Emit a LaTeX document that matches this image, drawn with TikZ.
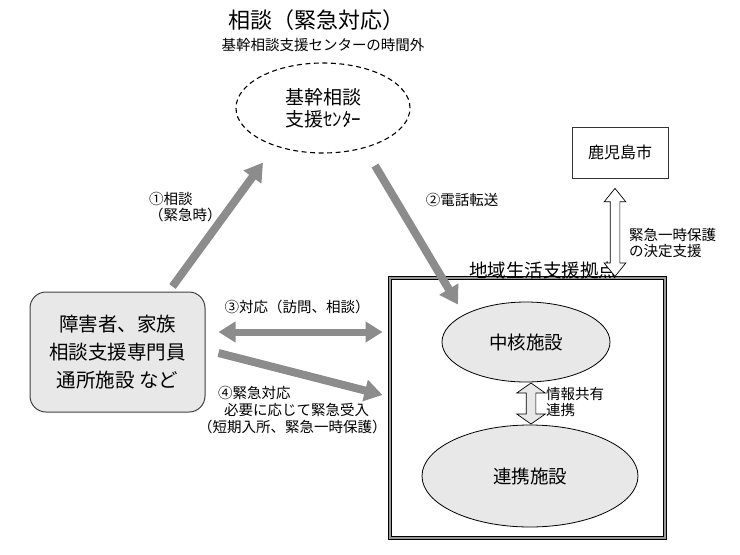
\documentclass[tikz,border=0pt]{standalone}
\usepackage{fontspec}
\setmainfont{Noto Sans CJK JP}
\usepackage{tikz}
\usetikzlibrary{arrows.meta,calc,positioning,shapes.geometric,shapes.arrows}
\definecolor{arrowgray}{HTML}{8C8C8C}
\definecolor{softgray}{HTML}{E8E8E8}
\newcommand{\fs}[1]{\fontsize{#1}{1.15\dimexpr#1pt\relax}\selectfont}

\begin{document}
\begin{tikzpicture}[x=1pt,y=-1pt,>=Latex]
\tikzset{fat/.style={draw=arrowgray,line width=8pt,
    -{Triangle[width=21pt,length=18pt]}},
  fatboth/.style={draw=arrowgray,line width=7pt,
    {Triangle[width=20pt,length=17pt]}-{Triangle[width=20pt,length=17pt]}},
  tag/.style={font=\fs{14.5},align=left,inner sep=0pt},
  hollow/.style={double arrow,draw,line width=0.7pt,rotate=90,inner sep=4.5pt,minimum width=0pt}}
\useasboundingbox (0,0) rectangle (740,555);
\node[font=\fs{22}] (head) at (316,20) {相談（緊急対応）};
\node[font=\fs{14.5}] (headsub) at (323,45) {基幹相談支援センターの時間外};
\node[ellipse,draw,dash pattern=on 5pt off 3.5pt,line width=1.1pt,minimum width=174pt,minimum height=90pt,
  inner sep=0pt,align=center,font=\fs{19}] (hub) at (323,108) {基幹相談\\支援ｾﾝﾀｰ};
\node[draw=black!75,rounded corners=16pt,fill=softgray,line width=1pt,minimum width=175pt,
  minimum height=120pt,align=center,font={\fontsize{19.5}{28}\selectfont}] (people) at (117.5,352)
  {障害者、家族\\相談支援専門員\\通所施設 など};
\node[draw=black,line width=0.9pt,double=black!40,double distance=1.6pt,minimum width=275pt,
  minimum height=260pt] (base) at (527.5,408) {};
\node[font=\fs{18.5},inner sep=0pt] (basename) at (543,270) {地域生活支援拠点};
\node[ellipse,draw,fill=softgray,line width=0.8pt,minimum width=168pt,minimum height=80pt,
  font=\fs{18.5}] (core) at (526,342) {中核施設};
\node[ellipse,draw,fill=softgray,line width=0.8pt,minimum width=216pt,minimum height=102pt,
  font=\fs{18.5}] (partner) at (530,476) {連携施設};
\node[draw=black!80,line width=0.8pt,minimum width=96pt,minimum height=51pt,font=\fs{16}] (city) at (620,152.5) {鹿児島市};
\node[hollow,fill=softgray,minimum height=41pt,double arrow head extend=9.5pt,
  double arrow tip angle=110] (share) at ($(core.south)!0.5!(partner.north)+(3,0)$) {};
\node[hollow,fill=white,minimum height=88pt,double arrow head extend=6pt,
  double arrow tip angle=78] (decide) at ($(city.south)+(-5,54)$) {};
\draw[fat] ([xshift=55pt,yshift=5pt]people.north) -- ([xshift=-60pt,yshift=-9pt]hub.south);
\draw[fat] ([xshift=52pt,yshift=-12pt]hub.south) -- ([xshift=-68pt,yshift=-3pt]core.north);
\draw[fatboth] ([xshift=13pt,yshift=20pt]people.east) -- ([xshift=-7pt,yshift=76pt]base.west);
\draw[fat] ([xshift=13pt,yshift=-1pt]people.east) -- ([xshift=-7pt,yshift=13pt]base.west);
\node[tag,anchor=west] (ask) at (149,207) {①相談\\（緊急時）};
\node[tag] (relay) at (462,200) {②電話転送};
\node[tag] (visit) at (297,307) {③対応（訪問、相談）};
\node[tag,anchor=west] (accept) at (198,410)
  {\hspace{20pt}④緊急対応\\\hspace{26pt}必要に応じて緊急受入\\（短期入所、緊急一時保護）};
\node[tag,anchor=west] (sharetag) at (546,402) {情報共有\\連携};
\node[tag,anchor=west] (decidetag) at (629,243) {緊急一時保護\\の決定支援};
\end{tikzpicture}
\end{document}
